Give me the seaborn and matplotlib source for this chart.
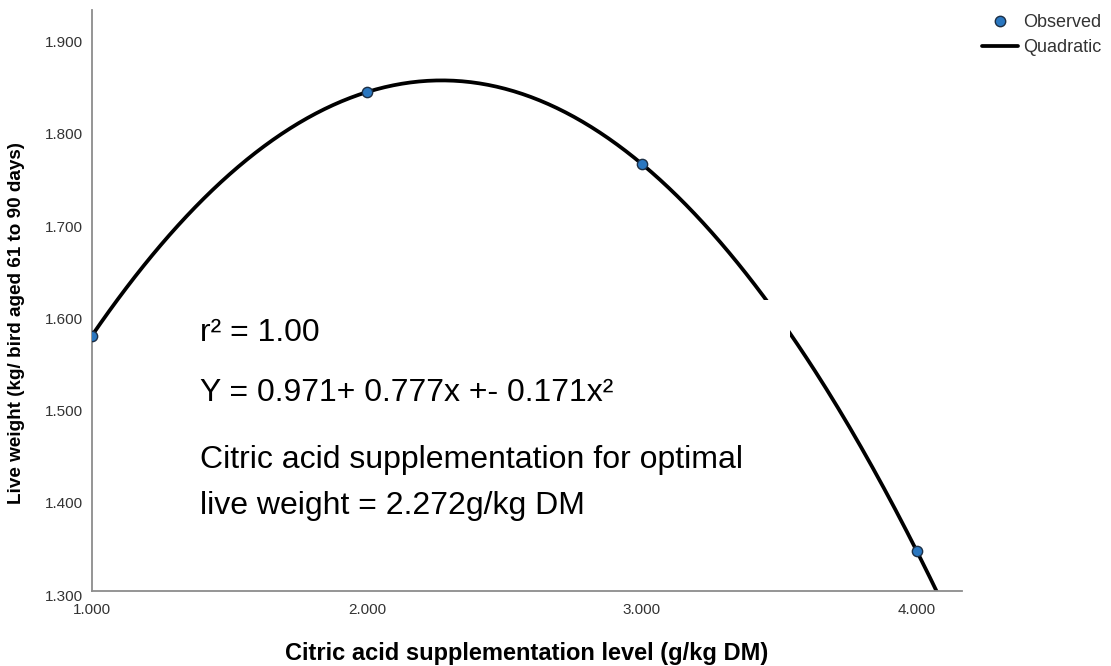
import numpy as np
import pandas as pd
import matplotlib
matplotlib.use("Agg")
import matplotlib.pyplot as plt
import matplotlib.transforms as mtransforms
from matplotlib.patches import Rectangle
from matplotlib.lines import Line2D
import seaborn as sns

# ── Data ──────────────────────────────────────────────────────────────────────
levels = [1.0, 2.0, 3.0, 4.0]
live_weight = [1.577, 1.841, 1.763, 1.343]
x_ticks = [1.0, 2.0, 3.0, 4.0]
y_ticks = [1.3, 1.4, 1.5, 1.6, 1.7, 1.8, 1.9]

# ── Style ─────────────────────────────────────────────────────────────────────
sns.set_style("white")
plt.rcParams["font.family"] = ["Liberation Sans", "DejaVu Sans"]

BLUE = "#2a77c0"
EDGE = "#1c2f45"

obs = pd.DataFrame({"x": levels, "y": live_weight})
coef = np.polyfit(levels, live_weight, 2)
xs = np.linspace(1.0, 4.12, 300)
fit = pd.DataFrame({"x": xs, "y": np.polyval(coef, xs)})

fig = plt.figure(figsize=(11.11, 6.66), dpi=100)
ax = fig.add_axes([0.0828, 0.1126, 0.7831, 0.8724])

sns.lineplot(data=fit, x="x", y="y", ax=ax, color="black", linewidth=2.7, zorder=2)
sns.scatterplot(data=obs, x="x", y="y", ax=ax, color=BLUE, edgecolor=EDGE,
                linewidth=1.0, s=55, zorder=3)

ax.set_xlim(1.0, 4.164)
ax.set_ylim(1.3, 1.930)
ax.set_xticks(x_ticks)
ax.set_yticks(y_ticks)
ax.set_xticklabels([f"{v:.3f}" for v in x_ticks], fontsize=11, color="#333333")
ax.set_yticklabels([f"{v:.3f}" for v in y_ticks], fontsize=11, color="#333333")
ax.tick_params(length=0)
ax.tick_params(axis="y", pad=6.5)
ax.tick_params(axis="x", pad=8.3)
shift = mtransforms.ScaledTranslation(0, -4 / 100, fig.dpi_scale_trans)
for lab in ax.get_yticklabels():
    lab.set_transform(lab.get_transform() + shift)

for side in ["top", "right"]:
    ax.spines[side].set_visible(False)
for side in ["left", "bottom"]:
    ax.spines[side].set_color("#8c8c8c")
    ax.spines[side].set_linewidth(1.3)

ax.set_xlabel("Citric acid supplementation level (g/kg DM)", fontsize=17,
              fontweight="bold", color="black")
ax.xaxis.set_label_coords(0.5, -0.088)
ax.set_ylabel("Live weight (kg/ bird aged 61 to 90 days)", fontsize=13.6,
              fontweight="bold", color="black")
ax.yaxis.set_label_coords(-0.077, 0.461)

# white annotation box hiding part of the curve
ax.add_patch(Rectangle((0.107, 0.09), 0.695, 0.411, transform=ax.transAxes,
                       facecolor="white", edgecolor="none", zorder=4))


def ypix(p):
    return (591 - p) / 581


tx = (200 - 92) / 870
fs = 23
ax.text(tx, ypix(341), "r² = 1.00", transform=ax.transAxes, fontsize=fs,
        va="baseline", color="black", zorder=5)
ax.text(tx, ypix(401), "Y = 0.971+ 0.777x +- 0.171x²", transform=ax.transAxes,
        fontsize=fs, va="baseline", color="black", zorder=5)
ax.text(tx, ypix(468), "Citric acid supplementation for optimal",
        transform=ax.transAxes, fontsize=fs, va="baseline", color="black", zorder=5)
ax.text(tx, ypix(514), "live weight = 2.272g/kg DM",
        transform=ax.transAxes, fontsize=fs, va="baseline", color="black", zorder=5)

handles = [
    Line2D([], [], marker="o", linestyle="none", markerfacecolor=BLUE,
           markeredgecolor=EDGE, markersize=7.5),
    Line2D([], [], color="black", linewidth=2.7),
]
fig.legend(handles, ["Observed", "Quadratic"], loc="upper left",
           bbox_to_anchor=(982 / 1111, 652 / 666), frameon=False, fontsize=13,
           handlelength=2.0, handletextpad=0.25, labelspacing=0.45, borderpad=0,
           borderaxespad=0, labelcolor="#333333")

fig.savefig("out.png", dpi=100, facecolor="white")
